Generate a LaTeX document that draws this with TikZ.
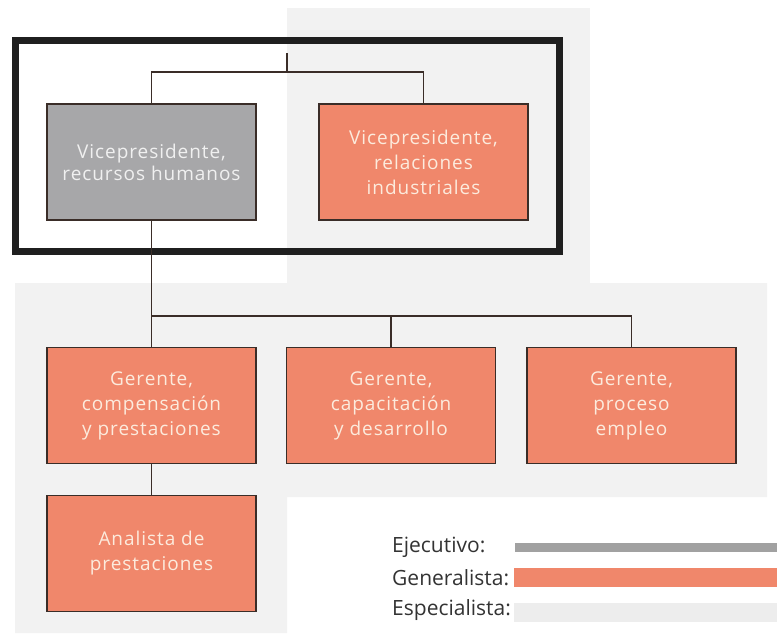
\documentclass[tikz,border=0pt]{standalone}
\usepackage{fontspec}
\setmainfont{Open Sans}
\newfontfamily\cajafont[LetterSpace=5]{Open Sans}
\usetikzlibrary{calc}
\definecolor{salmon}{HTML}{F0876B}
\definecolor{ejec}{HTML}{A7A7A9}
\definecolor{espec}{HTML}{F2F2F2}
\definecolor{cream}{HTML}{FCEBDD}
\definecolor{linea}{HTML}{3A2D28}
\tikzset{caja/.style={draw=linea,line width=1.2pt,minimum width=209pt,minimum height=116pt,align=center,inner sep=0pt,font=\cajafont\fontsize{19}{25}\selectfont,text=cream,fill=salmon}}
\tikzset{jefe/.style={caja,fill=ejec,text=white!94!black,font=\cajafont\fontsize{19}{22}\selectfont}}
\tikzset{ley/.style={anchor=west,inner sep=0pt,text=black!80,font=\fontsize{21}{21}\selectfont}}
\tikzset{conn/.style={linea,line width=1.2pt}}

\begin{document}
\begin{tikzpicture}[x=1pt,y=-1pt]
        \useasboundingbox (0,0) rectangle (777,635);
        % zonas de especialista
        \fill[espec] (287,8) rectangle (590,285);
        \fill[espec] (15,283)--(767,283)--(767,497)--(287,497)--(287,633)--(15,633)--cycle;
        \draw[line width=7pt,black!88] (15.5,40.5) rectangle (559.5,251);
        % puestos
        \node[jefe] (vprh) at (151.5,162) {Vicepresidente,\\recursos humanos};
        \node[caja] (vpri) at (423.5,162) {Vicepresidente,\\relaciones\\industriales};
        \node[caja] (gcp) at (151.5,405.5) {Gerente,\\compensación\\y prestaciones};
        \node[caja] (gcd) at (391,405.5) {Gerente,\\capacitación\\y desarrollo};
        \node[caja] (gpe) at (631.5,405.5) {Gerente,\\proceso\\empleo};
        \node[caja] (ap) at (151.5,553.5) {Analista de\\prestaciones};
        % lineas
        \coordinate (arriba) at (287,53);
        \coordinate (bus1) at (287,72);
        \coordinate (bus2) at (151.5,316);
        \draw[conn] (arriba) -- (bus1);
        \draw[conn] (bus1) -| (vprh.north);
        \draw[conn] (bus1) -| (vpri.north);
        \draw[conn] (vprh.south) -- (gcp.north);
        \draw[conn] (bus2) -| (gcd.north);
        \draw[conn] (bus2) -| (gpe.north);
        \draw[conn] (gcp.south) -- (ap.north);
        % leyenda
        \node[ley] (lej) at (392,547) {Ejecutivo:};
        \node[ley] (lge) at (392,578) {Generalista:};
        \node[ley] (les) at (392,610) {Especialista:};
        \fill[black!37] (515,543) rectangle (777,552);
        \fill[salmon] (514,568) rectangle (777,587);
        \fill[black!7] (514,603) rectangle (777,622);
\end{tikzpicture}
\end{document}
